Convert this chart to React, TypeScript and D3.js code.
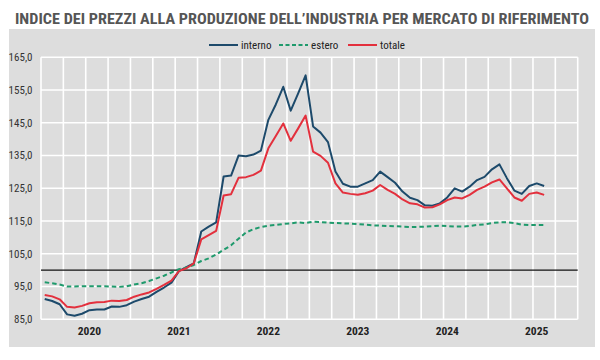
import React from "react";
import * as d3 from "d3";

const years = ["2020", "2021", "2022", "2023", "2024", "2025"];
const yTicks = [85, 95, 105, 115, 125, 135, 145, 155, 165];

const interno = [
  91.2, 90.6, 89.6, 86.5, 86.1, 86.7, 87.8, 88.0, 88.0, 88.9, 88.8, 89.3,
  90.4, 91.2, 91.9, 93.4, 94.7, 96.2, 99.7, 100.9, 102.1, 111.8, 113.3, 114.6,
  128.6, 128.9, 135.0, 134.8, 135.3, 136.5, 145.9, 150.6, 156.0, 148.7, 154.0, 159.5,
  143.9, 142.0, 139.1, 130.1, 126.4, 125.5, 125.5, 126.5, 127.5, 130.1, 128.4, 126.7,
  124.0, 122.1, 121.4, 119.8, 119.7, 120.4, 122.2, 125.0, 124.0, 125.5, 127.5, 128.5,
  130.8, 132.3, 128.1, 124.3, 123.3, 125.7, 126.5, 125.7,
];

const estero = [
  96.3, 96.0, 95.6, 95.0, 95.0, 95.1, 95.1, 95.1, 95.1, 95.0, 94.9, 95.1,
  95.6, 96.0, 96.7, 97.5, 98.3, 99.3, 100.3, 100.8, 101.6, 102.8, 103.6, 104.8,
  106.2, 107.6, 109.6, 111.5, 112.5, 113.2, 113.6, 113.8, 114.1, 114.3, 114.6, 114.4,
  114.8, 114.7, 114.5, 114.4, 114.3, 114.2, 114.1, 113.9, 113.7, 113.6, 113.5, 113.4,
  113.3, 113.2, 113.2, 113.3, 113.4, 113.6, 113.5, 113.3, 113.3, 113.5, 113.8, 114.0,
  114.4, 114.6, 114.6, 114.4, 113.9, 113.8, 113.8, 113.8,
];

const totale = [
  92.4, 92.0, 91.1, 88.8, 88.6, 89.1, 89.9, 90.2, 90.3, 90.7, 90.6, 90.9,
  91.9, 92.6, 93.2, 94.3, 95.5, 96.8, 99.7, 100.6, 102.1, 109.4, 110.7, 112.0,
  122.8, 123.2, 128.2, 128.4, 129.1, 130.4, 137.2, 141.0, 144.8, 139.5, 143.3, 147.2,
  136.2, 134.9, 132.8, 126.5, 123.7, 123.3, 123.0, 123.5, 124.3, 126.0, 124.5, 123.3,
  121.6, 120.4, 120.1, 119.1, 119.2, 120.1, 121.4, 122.2, 121.9, 123.0, 124.5, 125.5,
  126.8, 127.7, 125.0, 122.2, 121.2, 123.3, 123.7, 123.0,
];

const seriesNames = ["interno", "estero", "totale"];
const seriesColors = ["#1d4a6b", "#1f9a6c", "#e3303d"];

const W = 600;
const H = 360;
const plotL = 41;
const plotR = 577.7;
const plotT = 57.3;
const plotB = 319.3;
const nMonths = years.length * 12;
const narrow = "'Liberation Sans Narrow', 'Arial Narrow', 'Roboto Condensed', 'Liberation Sans', Arial, sans-serif";

export default function App() {
  const x = d3.scaleLinear().domain([0, nMonths]).range([plotL, plotR]);
  const y = d3.scaleLinear().domain([85, 165]).range([plotB, plotT]);
  const line = d3
    .line<number>()
    .x((_, i) => x(i + 0.5))
    .y((v) => y(v));
  const series = [interno, estero, totale];
  const vGrid = d3.range(0, nMonths + 1, 3);
  const legendX = [209, 279, 348];

  return (
    <svg
      width={W}
      height={H}
      style={{ position: "absolute", left: 0, top: 0, background: "#ffffff" }}
    >
      <rect x={0} y={0} width={W} height={H} fill="#ffffff" />
      <text
        x={302}
        y={24}
        textAnchor="middle"
        fontFamily={narrow}
        fontWeight="bold"
        fontSize={15.5}
        fill="#555555"
        textLength={574}
        lengthAdjust="spacingAndGlyphs"
      >
        INDICE DEI PREZZI ALLA PRODUZIONE DELL’INDUSTRIA PER MERCATO DI RIFERIMENTO
      </text>
      <rect x={9} y={29} width={586} height={318} fill="#dddddd" />
      {yTicks.map((t) => (
        <line
          key={"h" + t}
          x1={plotL}
          x2={plotR}
          y1={y(t)}
          y2={y(t)}
          stroke="#ffffff"
          strokeWidth={1.6}
        />
      ))}
      {vGrid.map((m) => (
        <line
          key={"v" + m}
          x1={x(m)}
          x2={x(m)}
          y1={plotT}
          y2={plotB}
          stroke="#ffffff"
          strokeWidth={1.6}
        />
      ))}
      <line x1={plotL} x2={plotR} y1={y(100)} y2={y(100)} stroke="#111111" strokeWidth={1.3} />
      {yTicks.map((t) => (
        <text
          key={"yt" + t}
          x={32.5}
          y={y(t) + 3.8}
          textAnchor="end"
          fontFamily={narrow}
          fontSize={11}
          fill="#333333"
        >
          {d3.format(".1f")(t).replace(".", ",")}
        </text>
      ))}
      {years.map((yr, i) => (
        <text
          key={yr}
          x={x(i * 12 + 6.5)}
          y={335}
          textAnchor="middle"
          fontFamily={narrow}
          fontWeight="bold"
          fontSize={11.5}
          fill="#222222"
        >
          {yr}
        </text>
      ))}
      {series.map((s, k) => (
        <path
          key={seriesNames[k]}
          d={line(s) || ""}
          fill="none"
          stroke={seriesColors[k]}
          strokeWidth={2}
          strokeDasharray={k === 1 ? "4.5,3" : undefined}
          strokeLinejoin="round"
        />
      ))}
      {seriesNames.map((n, k) => (
        <g key={"lg" + n}>
          <line
            x1={legendX[k]}
            x2={legendX[k] + 29}
            y1={45}
            y2={45}
            stroke={seriesColors[k]}
            strokeWidth={2}
            strokeDasharray={k === 1 ? "4,2.5" : undefined}
          />
          <text
            x={legendX[k] + 32}
            y={48.8}
            fontFamily={narrow}
            fontSize={11}
            fill="#222222"
          >
            {n}
          </text>
        </g>
      ))}
    </svg>
  );
}
